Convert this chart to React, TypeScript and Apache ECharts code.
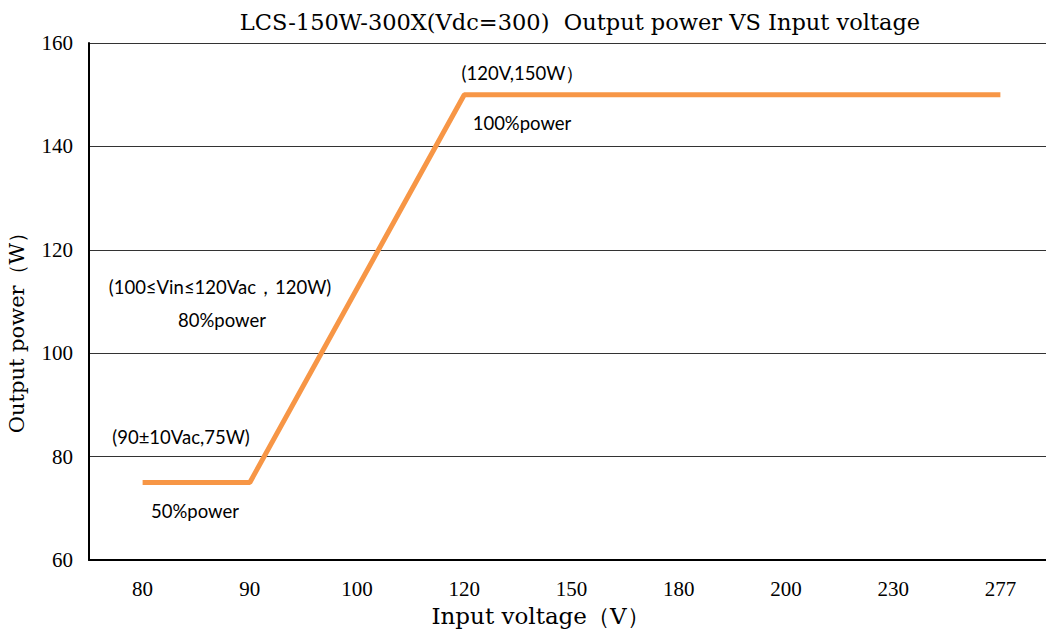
import React, { useEffect, useRef } from "react";
import * as echarts from "echarts";

const voltageCategories = ["80", "90", "100", "120", "150", "180", "200", "230", "277"];
// Output power at the break points of the curve; null where no point is given
const outputPower: (number | null)[] = [75, 75, null, 150, null, null, null, null, 150];
const yTicks = { min: 60, max: 160, interval: 20 };

const titleText = "LCS-150W-300X(Vdc=300)  Output power VS Input voltage";
const xName = "Input voltage\uFF08V\uFF09";
const yName = "Output power\uFF08W\uFF09";

const notes = [
  { text: "(90±10Vac,75W)", x: 181, y: 437 },
  { text: "50%power", x: 195, y: 511 },
  { text: "(100≤Vin≤120Vac，120W)", x: 220, y: 287 },
  { text: "80%power", x: 222, y: 320 },
  { text: "(120V,150W）", x: 523, y: 73 },
  { text: "100%power", x: 522, y: 123 },
];

export default function App() {
  const ref = useRef<HTMLDivElement>(null);
  useEffect(() => {
    document.body.style.margin = "0";
    const chart = echarts.init(ref.current!, null, { renderer: "svg" });
    const serif = "Liberation Serif";
    const titleFont = "DejaVu Serif";
    chart.setOption({
      animation: false,
      backgroundColor: "#fff",
      title: {
        text: titleText,
        left: 575,
        textAlign: "center",
        top: 5,
        textStyle: { fontFamily: titleFont, fontSize: 22.5, fontWeight: "normal", color: "#000" },
      },
      grid: { left: 89, right: -8, top: 43, bottom: 70, containLabel: false, outerBoundsMode: "none" },
      xAxis: {
        type: "category",
        data: voltageCategories,
        boundaryGap: true,
        name: xName,
        nameLocation: "middle",
        nameGap: 44,
        nameTextStyle: { fontFamily: titleFont, fontSize: 23, color: "#000", padding: [0, 62, 0, 0] },
        axisLine: { lineStyle: { color: "#000", width: 2 } },
        axisTick: { show: false },
        axisLabel: { fontFamily: serif, fontSize: 21, color: "#000", margin: 18 },
      },
      yAxis: {
        type: "value",
        min: yTicks.min,
        max: yTicks.max,
        interval: yTicks.interval,
        name: yName,
        nameLocation: "middle",
        nameGap: 62,
        nameTextStyle: { fontFamily: titleFont, fontSize: 21, color: "#000", padding: [0, 52, 0, 0] },
        axisLine: { show: true, lineStyle: { color: "#000", width: 2 } },
        axisTick: { show: false },
        axisLabel: { fontFamily: serif, fontSize: 21, color: "#000", margin: 16 },
        splitLine: { show: true, lineStyle: { color: "#333", width: 1 } },
      },
      series: [
        {
          type: "line",
          data: outputPower,
          connectNulls: true,
          showSymbol: false,
          symbol: "none",
          lineStyle: { color: "#F79646", width: 5 },
        },
      ],
      graphic: notes.map((n) => ({
        type: "text",
        x: n.x,
        y: n.y,
        style: {
          text: n.text,
          fontFamily: "Lato",
          fontSize: 18.5,
          fill: "#000",
          align: "center",
          verticalAlign: "middle",
        },
      })),
    });
    return () => chart.dispose();
  }, []);
  return <div ref={ref} style={{ position: "fixed", left: 0, top: 0, width: 1046, height: 630 }} />;
}
